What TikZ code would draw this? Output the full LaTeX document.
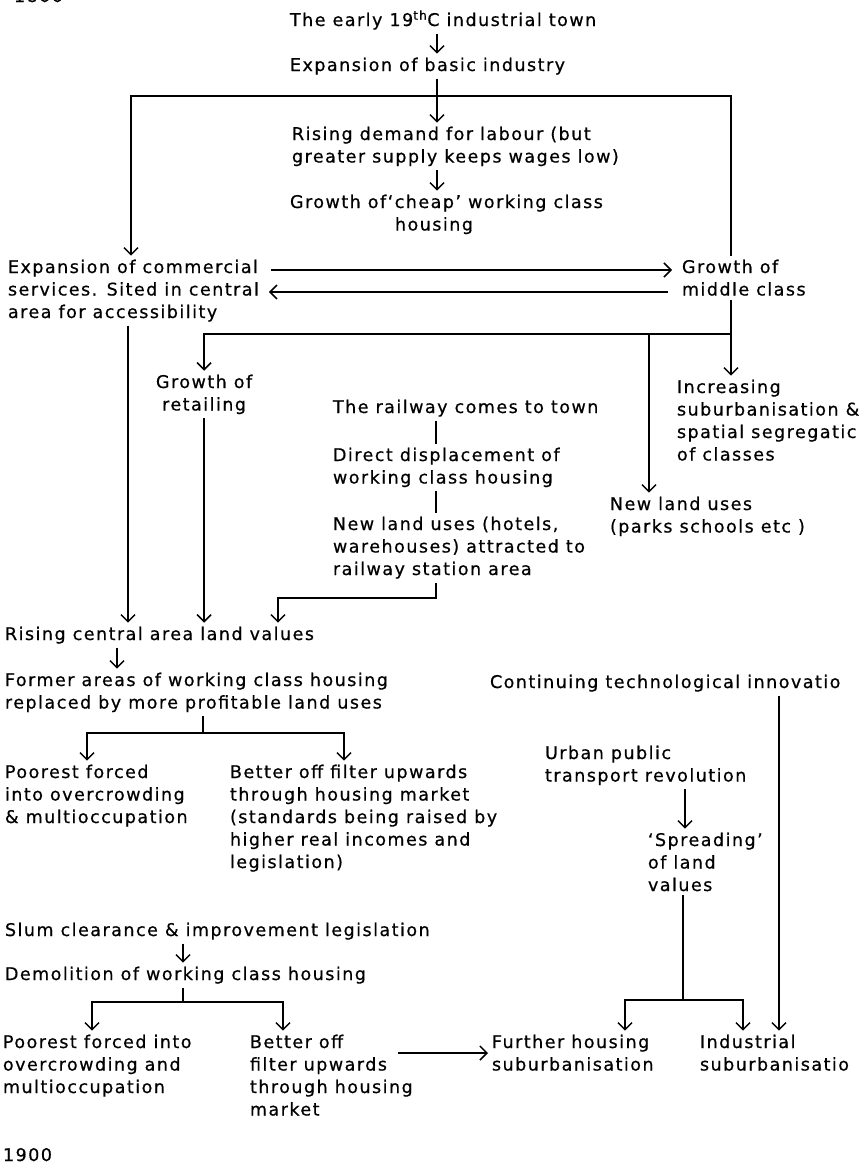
\documentclass[tikz,border=0pt]{standalone}
\usepackage{fontspec}
\setmainfont{DejaVu Sans}[LetterSpace=8.5, FakeBold=0.6]
\usetikzlibrary{arrows.meta,calc}
\tikzset{
    txt/.style = {anchor=base west, align=left, inner sep=0pt, outer sep=4pt,
        font=\fontsize{17.5}{22.5}\selectfont},
    ctxt/.style = {txt, align=center},
    arrow/.style = {draw, -{Straight Barb[length=7pt,width=14pt]}},
    line/.style = {draw}
}
\begin{document}
\begin{tikzpicture}[x=1pt, y=-1pt, line width=1.5pt]
    \useasboundingbox (0,0) rectangle (859,1165);
    \node[txt] (y1800) at (10,2) {1800};
    \node[txt] (y1900) at (-1,1161) {1900};
    % central chain
    \node[txt] (town) at (286,26) {The early 19\textsuperscript{th}C industrial town};
    \node[txt] (basic) at (286,71) {Expansion of basic industry};
    \node[txt] (demand) at (288,162.5) {Rising demand for labour (but\\greater supply keeps wages low)};
    \node[txt] (cheap) at (286,230.5) {Growth of‘cheap’ working class\\\hspace*{105pt}housing};
    \node[txt] (comm) at (4,318) {Expansion of commercial\\services. Sited in central\\area for accessibility};
    \node[txt] (middle) at (678,295.5) {Growth of\\middle class};
    \node[ctxt] (retail) at (152,410.5) {Growth of\\retailing};
    \node[txt] (incr) at (673,460.5) {Increasing\\suburbanisation \&\\spatial segregatic\\of classes};
    \node[txt] (parks) at (606,532.5) {New land uses\\(parks schools etc )};
    % railway
    \node[txt] (rail) at (329,413) {The railway comes to town};
    \node[txt] (disp) at (329,483.5) {Direct displacement of\\working class housing};
    \node[txt] (hotels) at (329,575) {New land uses (hotels,\\warehouses) attracted to\\railway station area};
    % land values
    \node[txt] (land) at (1,640) {Rising central area land values};
    \node[txt] (former) at (1,708.5) {Former areas of working class housing\\replaced by more profitable land uses};
    \node[txt] (poor1) at (1,823) {Poorest forced\\into overcrowding\\\& multioccupation};
    \node[txt] (better1) at (226,868) {Better off filter upwards\\through housing market\\(standards being raised by\\higher real incomes and\\legislation)};
    % legislation
    \node[txt] (slum) at (1,936) {Slum clearance \& improvement legislation};
    \node[txt] (demol) at (1,980) {Demolition of working class housing};
    \node[txt] (poor2) at (-1,1093) {Poorest forced into\\overcrowding and\\multioccupation};
    \node[txt] (better2) at (246,1115.5) {Better off\\filter upwards\\through housing\\market};
    % technology
    \node[txt] (tech) at (486,688) {Continuing technological innovatio};
    \node[txt] (urban) at (541,781.5) {Urban public\\transport revolution};
    \node[txt] (spread) at (644,891) {‘Spreading’\\of land\\values};
    \node[txt] (further) at (488,1070.5) {Further housing\\suburbanisation};
    \node[txt] (indus) at (696,1070.5) {Industrial\\suburbanisatio};

    \coordinate (split) at (437,96);
    \coordinate (lft) at (131,96);
    \coordinate (rgt) at (731,96);
    \coordinate (row1) at (0,270);
    \coordinate (row2) at (0,292);
    \coordinate (mc) at (731,334);
    \coordinate (mp) at (649,334);
    \coordinate (cx) at (128,0);
    \coordinate (rl) at (436,598);
    \coordinate (rl2) at (278,598);
    \coordinate (lx) at (117,0);
    \coordinate (fs) at (203,733);
    \coordinate (fl) at (87,733);
    \coordinate (fr) at (344,733);
    \coordinate (ds) at (183,1002);
    \coordinate (dl) at (92,1002);
    \coordinate (dr) at (283,1002);
    \coordinate (bo) at (398,1053);
    \coordinate (ci) at (779,0);
    \coordinate (ux) at (685,0);
    \coordinate (ss) at (683,1000);
    \coordinate (sl) at (625,1000);
    \coordinate (sr) at (743,1000);

    \draw[arrow] (town.south -| split) -- (basic.north -| split);
    \draw[arrow] (basic.south -| split) -- (demand.north -| split);
    \draw[arrow] (demand.south -| split) -- (cheap.north -| split);
    \draw[arrow] (split) -- (lft) -- (lft |- comm.north);
    \draw[line] (split) -- (rgt) -- (rgt |- middle.north);
    \draw[arrow, shorten <=8pt, shorten >=6pt] (comm.east |- row1) -- (middle.west |- row1);
    \draw[arrow, shorten <=10pt, shorten >=6pt] (middle.west |- row2) -- (comm.east |- row2);
    \draw[line] (middle.south -| mc) -- (mc);
    \draw[arrow] (mc) -| (retail.north);
    \draw[arrow] (mp) -- (mp |- parks.north);
    \draw[arrow] (mc) -- (mc |- incr.north);
    \draw[arrow] (retail.south) -- (retail.south |- land.north);
    \draw[arrow] (comm.south -| cx) -- (land.north -| cx);
    \draw[line] (rail.south -| rl) -- (disp.north -| rl);
    \draw[line] (disp.south -| rl) -- (hotels.north -| rl);
    \draw[arrow] (hotels.south -| rl) -- (rl) -- (rl2) -- (rl2 |- land.north);
    \draw[arrow] (land.south -| lx) -- (former.north -| lx);
    \draw[line] (former.south -| fs) -- (fs);
    \foreach \c/\t in {fl/poor1,fr/better1}
        \draw[arrow] (fs) -- (\c) -- (\c |- \t.north);
    \draw[arrow] (slum.south -| ds) -- (demol.north -| ds);
    \draw[line] (demol.south -| ds) -- (ds);
    \foreach \c/\t in {dl/poor2,dr/better2}
        \draw[arrow] (ds) -- (\c) -- (\c |- \t.north);
    \draw[arrow] (bo) -- (further.west |- bo);
    \draw[arrow] (tech.south -| ci) -- (indus.north -| ci);
    \draw[arrow] (urban.south -| ux) -- (spread.north -| ux);
    \draw[line] (spread.south -| ss) -- (ss);
    \foreach \c/\t in {sl/further,sr/indus}
        \draw[arrow] (ss) -- (\c) -- (\c |- \t.north);
\end{tikzpicture}
\end{document}
